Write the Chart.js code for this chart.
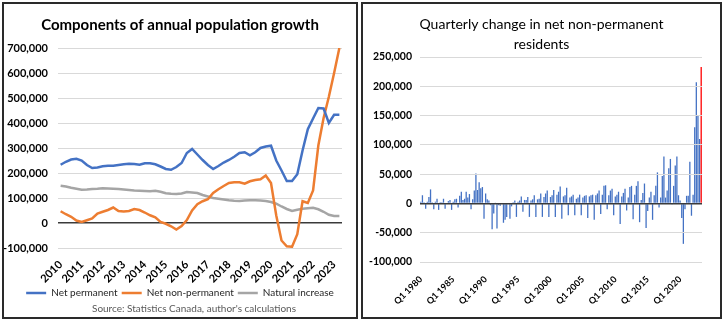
<!DOCTYPE html>
<html>
<head>
<meta charset="utf-8">
<script src="https://cdn.jsdelivr.net/npm/chart.js@4.4.1/dist/chart.umd.min.js"></script>
<style>
  body { margin: 0; background: #fff; width: 726px; height: 323px; position: relative; overflow: hidden; }
  .panel { position: absolute; top: 2px; height: 317px; border: 2px solid #2a2a2a; box-sizing: border-box; }
  #leftPanel { left: 2px; width: 356px; }
  #rightPanel { left: 361px; width: 361px; }
  canvas { position: absolute; left: 0; top: 0; }
</style>
</head>
<body>
<div class="panel" id="leftPanel"><canvas id="growth" width="352" height="313"></canvas></div>
<div class="panel" id="rightPanel"><canvas id="npr" width="357" height="313"></canvas></div>
<script>
// Components of growth, quarterly (2010 Q1 - 2023 Q2), annual totals
const growthYears = ['2010','2011','2012','2013','2014','2015','2016','2017','2018','2019','2020','2021','2022','2023'];
const netPermanent = [233000,245000,254000,257000,250000,232000,220000,222000,227000,229000,
  229000,232000,235000,237000,236000,233000,239000,239000,235000,226000,
  216000,213000,224000,240000,280000,296000,274000,252000,232000,216000,
  228000,242000,252000,265000,280000,283000,271000,283000,300000,306000,
  309000,250000,210000,168000,168000,195000,290000,375000,418000,460000,
  458000,400000,433000,433000];
const netNonPermanent = [47000,35000,25000,10000,4000,11000,18000,38000,45000,52000,
  62000,48000,46000,48000,56000,52000,42000,31000,23000,4000,
  -3000,-13000,-26000,-12000,12000,50000,75000,87000,95000,120000,
  135000,148000,160000,163000,163000,157000,167000,172000,175000,190000,
  160000,30000,-70000,-93000,-95000,-45000,87000,80000,130000,310000,
  420000,505000,600000,700000];
const naturalIncrease = [149000,146000,141000,137000,133000,134000,136000,137000,139000,138000,
  137000,136000,134000,132000,130000,129000,128000,127000,129000,125000,
  119000,117000,116000,118000,124000,122000,120000,112000,106000,100000,
  97000,94000,91000,89000,88000,90000,91000,91000,90000,88000,
  84000,77000,66000,56000,48000,53000,57000,59000,61000,55000,
  45000,33000,28000,28000];

// Quarterly change in net non-permanent residents (1980 Q1 - 2023 Q2)
const nprTicks = ['Q1 1980','Q1 1985','Q1 1990','Q1 1995','Q1 2000','Q1 2005','Q1 2010','Q1 2015','Q1 2020'];
const nprChange = [3000,14000,2000,-9000,3000,11000,24000,2000,-10000,3000,
  8000,-11000,2000,2000,8000,-9000,1000,4000,6000,-11000,
  3000,7000,8000,-7000,13000,20000,6000,8000,20000,10000,
  16000,-10000,7000,22000,51000,23000,36000,26000,28000,-26000,
  17000,7000,5000,-3000,-44000,-17000,1000,-43000,-3000,-4000,
  1000,-33000,-28000,-23000,1000,-26000,-5000,2000,5000,-23000,
  3000,5000,12000,-14000,6000,6000,11000,-23000,5000,7000,
  14000,-23000,7000,8000,17000,-23000,11000,17000,22000,-23000,
  11000,14000,23000,-23000,15000,20000,29000,-26000,12000,14000,
  27000,-20000,10000,12000,15000,-20000,8000,10000,15000,-20000,
  10000,13000,14000,-25000,12000,14000,15000,-28000,14000,17000,
  22000,-18000,15000,30000,31000,-10000,14000,22000,25000,-20000,
  12000,15000,20000,-35000,12000,18000,25000,-12000,10000,28000,
  30000,-27000,15000,30000,38000,-32000,6000,18000,34000,-42000,
  -13000,10000,20000,-28000,14000,30000,53000,-7000,10000,47000,
  80000,10000,22000,60000,76000,-2000,30000,65000,80000,14000,
  5000,-25000,-69000,-10000,13000,13000,71000,-21000,15000,130000,
  207000,150000,110000,233000];

const sourceNote = "Source: Statistics Canada, author's calculations";

function quarterLabels(startYear, count) {
  const out = [];
  for (let i = 0; i < count; i++) out.push('Q' + (i % 4 + 1) + ' ' + (startYear + Math.floor(i / 4)));
  return out;
}

const fmt = v => v.toLocaleString('en-US');
const gridColor = ctx => ctx.tick && ctx.tick.value === 0 ? '#3a3a3a' : '#d9d9d9';
const gridWidth = ctx => ctx.tick && ctx.tick.value === 0 ? 1.5 : 1;
const FONT = 'Lato, "Open Sans", sans-serif';

// empty right-hand axis, only reserves the margin right of the plot
const spacerAxis = w => ({
  position: 'right', display: true,
  grid: { display: false }, border: { display: false }, ticks: { display: false },
  afterFit: s => { s.width = w; }
});

// source line sits a little right of centre, under the legend
const sourcePlugin = {
  id: 'sourcePlugin',
  afterDraw(chart) {
    const c = chart.ctx;
    c.save();
    c.font = '10px ' + FONT;
    c.fillStyle = '#595959';
    c.textAlign = 'center';
    c.textBaseline = 'middle';
    c.fillText(sourceNote, 190, 305);
    c.restore();
  }
};

new Chart(document.getElementById('growth'), {
  type: 'line',
  data: {
    labels: quarterLabels(2010, netPermanent.length),
    datasets: [
      { label: 'Net permanent', data: netPermanent, borderColor: '#4472C4', backgroundColor: '#4472C4', borderWidth: 2.5, pointRadius: 0 },
      { label: 'Net non-permanent', data: netNonPermanent, borderColor: '#ED7D31', backgroundColor: '#ED7D31', borderWidth: 2.5, pointRadius: 0 },
      { label: 'Natural increase', data: naturalIncrease, borderColor: '#A5A5A5', backgroundColor: '#A5A5A5', borderWidth: 2.5, pointRadius: 0 }
    ]
  },
  plugins: [sourcePlugin],
  options: {
    responsive: false,
    animation: false,
    layout: { padding: { left: 0, right: 0, top: 0, bottom: 9 } },
    plugins: {
      title: {
        display: true, text: 'Components of annual population growth', color: '#000',
        font: { family: FONT, size: 15, weight: 'bold' }, padding: { top: 12, bottom: 14 }
      },
      legend: {
        position: 'bottom',
        labels: {
          usePointStyle: true, pointStyle: 'line', pointStyleWidth: 20, padding: 4,
          color: '#262626', font: { family: FONT, size: 10 }
        }
      },
      tooltip: { enabled: false }
    },
    scales: {
      x: {
        offset: true,
        grid: { display: false }, border: { display: false },
        ticks: {
          autoSkip: false, minRotation: 45, maxRotation: 45, padding: 2, color: '#000',
          font: { family: FONT, size: 11, weight: 'bold' },
          callback: (v, i) => i % 4 === 0 ? growthYears[i / 4] : null
        },
        afterFit: s => { s.height = 36; }
      },
      y: {
        min: -100000, max: 700000,
        border: { display: false },
        grid: { color: gridColor, lineWidth: gridWidth, drawTicks: false },
        ticks: { stepSize: 100000, padding: 10, color: '#000', font: { family: FONT, size: 11, weight: 'bold' }, callback: fmt },
        afterFit: s => { s.width = 54; }
      },
      pad: spacerAxis(14)
    }
  }
});

new Chart(document.getElementById('npr'), {
  type: 'bar',
  data: {
    labels: quarterLabels(1980, nprChange.length),
    datasets: [{
      data: nprChange,
      backgroundColor: nprChange.map((v, i) => i === nprChange.length - 1 ? '#FF0000' : '#4472C4'),
      categoryPercentage: 1, barPercentage: 0.8, borderWidth: 0
    }]
  },
  options: {
    responsive: false,
    animation: false,
    layout: { padding: { left: 0, right: 0, top: 0, bottom: 0 } },
    plugins: {
      title: {
        display: true, text: ['Quarterly change in net non-permanent', 'residents'], color: '#000',
        font: { family: FONT, size: 14, weight: 'normal', lineHeight: 1.43 }, padding: { top: 10, bottom: 3 }
      },
      legend: { display: false },
      tooltip: { enabled: false }
    },
    scales: {
      x: {
        grid: { display: false }, border: { display: false },
        ticks: {
          autoSkip: false, minRotation: 45, maxRotation: 45, padding: 4, color: '#000',
          font: { family: FONT, size: 9, weight: 'bold' },
          callback: (v, i) => i % 20 === 0 ? nprTicks[i / 20] : null
        },
        afterFit: s => { s.height = 55; }
      },
      y: {
        min: -100000, max: 250000,
        border: { display: false },
        grid: { color: gridColor, lineWidth: gridWidth, drawTicks: false, z: 1 },
        ticks: { stepSize: 50000, padding: 8, color: '#000', font: { family: FONT, size: 10.5, weight: 'bold' }, callback: fmt },
        afterFit: s => { s.width = 57; }
      },
      pad: spacerAxis(18)
    }
  }
});
</script>
</body>
</html>
